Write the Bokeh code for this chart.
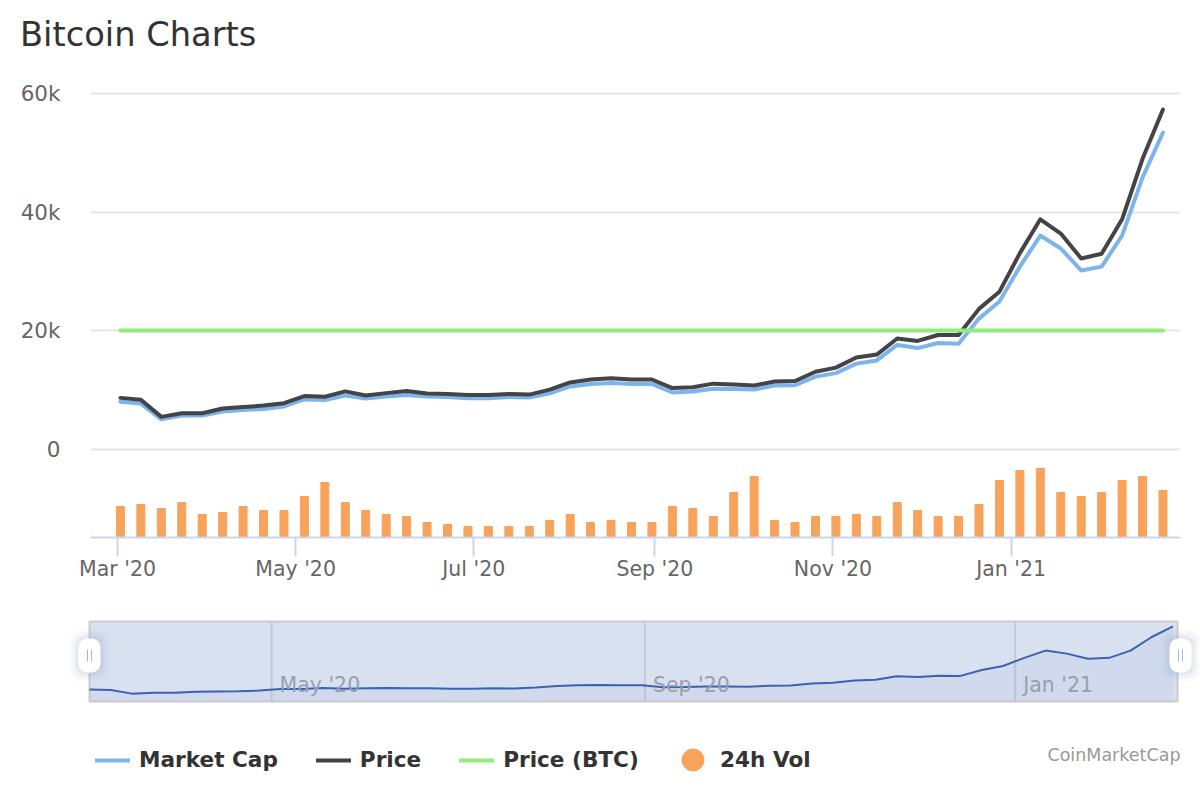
import pandas as pd
from bokeh.embed import file_html
from bokeh.layouts import column
from bokeh.models import (BoxAnnotation, ColumnDataSource, FixedTicker, Label, Legend,
                          LegendItem, Range1d)
from bokeh.plotting import figure
from bokeh.resources import INLINE

dates = ["2020-03-02","2020-03-09","2020-03-16","2020-03-23","2020-03-30","2020-04-06","2020-04-13","2020-04-20","2020-04-27",
         "2020-05-04","2020-05-11","2020-05-18","2020-05-25","2020-06-01","2020-06-08","2020-06-15","2020-06-22","2020-06-29",
         "2020-07-06","2020-07-13","2020-07-20","2020-07-27","2020-08-03","2020-08-10","2020-08-17","2020-08-24","2020-08-31",
         "2020-09-07","2020-09-14","2020-09-21","2020-09-28","2020-10-05","2020-10-12","2020-10-19","2020-10-26","2020-11-02",
         "2020-11-09","2020-11-16","2020-11-23","2020-11-30","2020-12-07","2020-12-14","2020-12-21","2020-12-28","2021-01-04",
         "2021-01-11","2021-01-18","2021-01-25","2021-02-01","2021-02-08","2021-02-15","2021-02-22"]
price = [8700,8400,5500,6100,6100,6900,7150,7400,7800,9000,8900,9800,9100,9500,9850,9450,9350,9200,9200,9350,9250,10100,
         11300,11800,12000,11800,11800,10350,10500,11100,10950,10800,11450,11550,13100,13800,15500,16000,18700,18300,19300,19300,
         23700,26600,33100,38800,36400,32200,33000,38800,49000,57300]
market_cap = [151,145,95,107,107,120,125,128,136,158,156,170,161,167,172,167,166,162,162,166,164,177,
              199,207,210,207,207,180,183,192,191,189,202,203,230,241,271,281,330,320,336,334,
              413,467,577,675,634,565,577,675,858,1000]
price_btc = [1,1,1,1,1,1,1,1,1,1,1,1,1,1,1,1,1,1,1,1,1,1,1,1,1,1,
             1,1,1,1,1,1,1,1,1,1,1,1,1,1,1,1,1,1,1,1,1,1,1,1,1,1]
volume = [62,66,58,70,46,50,62,54,54,82,110,70,54,46,42,30,26,22,22,22,22,34,46,30,34,30,30,62,58,42,90,122,34,30,42,42,46,42,
          70,54,42,42,66,114,134,138,90,82,90,114,122,94]

y_ticks = [0, 20000, 40000, 60000]
y_labels = ["0", "20k", "40k", "60k"]
x_ticks = ["2020-03-01", "2020-05-01", "2020-07-01", "2020-09-01", "2020-11-01", "2021-01-01"]
x_labels = ["Mar '20", "May '20", "Jul '20", "Sep '20", "Nov '20", "Jan '21"]
nav_ticks = ["2020-05-01", "2020-09-01", "2021-01-01"]
nav_labels = ["May '20", "Sep '20", "Jan '21"]

FONT = "DejaVu Sans"
BLUE, DARK, GREEN, ORANGE = "#7cb5ec", "#434348", "#90ed7d", "#f7a35c"
NAN = float("nan")


def ms(d):
    return pd.Timestamp(d).value / 1e6


x = [ms(d) for d in dates]
src = ColumnDataSource(data=dict(x=x, price=price, mcap=market_cap, btc=price_btc, vol=volume))
nav_src = ColumnDataSource(data=dict(x=x, mcap=market_cap))
DAY = pd.Timedelta(days=1)

# ---- title strip
head = figure(width=1200, height=70, output_backend="svg", toolbar_location=None, frame_align=False,
              x_range=Range1d(0, 1), y_range=Range1d(0, 1), x_axis_location=None, y_axis_location=None,
              min_border_left=0, min_border_right=0, min_border_top=0, min_border_bottom=0)
head.outline_line_color = None
head.grid.grid_line_color = None
head.add_layout(Label(x=19.5, y=36, x_units="screen", y_units="screen", text="Bitcoin Charts", text_font=FONT,
                      text_font_size="33.7px", text_color="#333333", text_baseline="middle"))

# ---- main chart
p = figure(width=1200, height=530, x_axis_type="datetime", output_backend="svg", toolbar_location=None,
           x_range=Range1d(pd.Timestamp("2020-03-01") - 9.25 * DAY, pd.Timestamp("2020-03-01") + 364 * DAY),
           y_range=Range1d(-14831, 60337), frame_align=False,
           min_border_left=90, min_border_right=20, min_border_top=21, min_border_bottom=63)
p.outline_line_color = None
p.extra_y_ranges = {"mcap": Range1d(-277.6, 1129.5), "btc": Range1d(-0.739, 3.009), "vol": Range1d(0, 892)}

xa = p.xaxis[0]
xa.ticker = FixedTicker(ticks=[ms(d) for d in x_ticks])
xa.major_label_overrides = {ms(d): t for d, t in zip(x_ticks, x_labels)}
xa.axis_line_color = "#ccd6eb"
xa.axis_line_width = 2
xa.major_tick_line_color = "#ccd6eb"
xa.major_tick_line_width = 2
xa.major_tick_out = 19
xa.major_tick_in = 0
xa.minor_tick_line_color = None
xa.major_label_standoff = 0
xa.major_label_text_font = FONT
xa.major_label_text_font_size = "20.5px"
xa.major_label_text_color = "#666666"

ya = p.yaxis[0]
ya.ticker = FixedTicker(ticks=y_ticks)
ya.major_label_overrides = dict(zip(y_ticks, y_labels))
ya.axis_line_color = None
ya.major_tick_line_color = None
ya.minor_tick_line_color = None
ya.major_label_standoff = 24
ya.major_label_text_font = FONT
ya.major_label_text_font_size = "21.5px"
ya.major_label_text_color = "#666666"

p.xgrid.grid_line_color = None
p.ygrid.ticker = FixedTicker(ticks=y_ticks)
p.ygrid.grid_line_color = "#e6e6e6"
p.ygrid.grid_line_width = 2

p.vbar(x="x", top="vol", bottom=0, width=2.74 * 86400000, source=src, color=ORANGE, y_range_name="vol")
p.line("x", "mcap", source=src, color=BLUE, line_width=4, y_range_name="mcap", line_join="round", line_cap="round")
p.line("x", "price", source=src, color=DARK, line_width=4, line_join="round", line_cap="round")
p.line("x", "btc", source=src, color=GREEN, line_width=4, y_range_name="btc", line_join="round", line_cap="round")

# ---- navigator
NAV0 = pd.Timestamp("2020-03-02")
nav = figure(width=1200, height=103, x_axis_type="datetime", output_backend="svg", toolbar_location=None,
             x_range=Range1d(NAV0 - 29.32 * DAY, NAV0 + 366.06 * DAY), y_range=Range1d(-38, 1094), frame_align=False,
             x_axis_location=None, y_axis_location=None,
             min_border_left=0, min_border_right=0, min_border_top=19, min_border_bottom=0)
nav.outline_line_color = None
nav.grid.grid_line_color = None
nav.quad(left=[NAV0], right=[NAV0 + 358.5 * DAY], top=[1067], bottom=[-11],
         fill_color="#d9e1f0", line_color="#cccccc", line_width=2)
nav.segment(x0=[ms(d) for d in nav_ticks], x1=[ms(d) for d in nav_ticks], y0=[-11, -11, -11], y1=[1067, 1067, 1067],
            line_color="#c3cad9", line_width=2)
for d, t in zip(nav_ticks, nav_labels):
    nav.add_layout(Label(x=ms(d), x_offset=8, y=218, text=t, text_font=FONT, text_font_size="20.5px",
                         text_color="#999eae", text_baseline="middle"))
nav.varea(x="x", y1=-11, y2="mcap", source=nav_src, fill_color="#335cad", fill_alpha=0.05)
nav.line("x", "mcap", source=nav_src, color="#3a62b3", line_width=2)
for cx in (89, 1180):
    for grow, alpha in ((9, 0.04), (6, 0.06), (3, 0.1)):
        nav.add_layout(BoxAnnotation(left=cx - 11 - grow, right=cx + 11 + grow, top=65 + grow, bottom=31 - grow,
                                     left_units="screen", right_units="screen", top_units="screen", bottom_units="screen",
                                     fill_color="#7f8fb5", fill_alpha=alpha, line_color=None, border_radius=10, level="overlay"))
    nav.add_layout(BoxAnnotation(left=cx - 11, right=cx + 11, top=65, bottom=31,
                                 left_units="screen", right_units="screen", top_units="screen", bottom_units="screen",
                                 fill_color="#ffffff", fill_alpha=1, line_color=None, border_radius=9, level="overlay"))
    for dx in (-2, 2):
        nav.add_layout(BoxAnnotation(left=cx + dx - 0.5, right=cx + dx + 0.5, top=54, bottom=42,
                                     left_units="screen", right_units="screen", top_units="screen", bottom_units="screen",
                                     fill_color="#a9b4cf", fill_alpha=1, line_color=None, level="overlay"))

# ---- legend strip
lg = figure(width=1200, height=90, output_backend="svg", toolbar_location=None, frame_align=False,
            x_range=Range1d(0, 1), y_range=Range1d(0, 1), x_axis_location=None, y_axis_location=None,
            min_border_left=0, min_border_right=0, min_border_top=0, min_border_bottom=0)
lg.outline_line_color = None
lg.grid.grid_line_color = None
r1 = lg.line([NAN, NAN], [NAN, NAN], color=BLUE, line_width=4, line_cap="round")
r2 = lg.line([NAN, NAN], [NAN, NAN], color=DARK, line_width=4, line_cap="round")
r3 = lg.line([NAN, NAN], [NAN, NAN], color=GREEN, line_width=4, line_cap="round")
r4 = lg.scatter([NAN], [NAN], color=ORANGE, marker="circle")


def make_legend(items, loc, width, height, standoff):
    L = Legend(items=items, orientation="horizontal", location=loc, glyph_width=width, glyph_height=height,
               label_standoff=standoff, spacing=38, padding=0, margin=0, border_line_color=None, background_fill_alpha=0,
               label_text_font=FONT, label_text_font_style="bold", label_text_font_size="21.6px",
               label_text_color="#333333", label_height=24)
    lg.add_layout(L)


make_legend([LegendItem(label="Market Cap", renderers=[r1]), LegendItem(label="Price", renderers=[r2]),
             LegendItem(label="Price (BTC)", renderers=[r3])], (95, 21), 35, 22, 9)
make_legend([LegendItem(label="24h Vol", renderers=[r4])], (665, 6), 55, 55, 0)
lg.add_layout(Label(x=1180, y=39, x_units="screen", y_units="screen", text="CoinMarketCap", text_font=FONT,
                    text_font_size="17.5px", text_color="#999999", text_align="right", text_baseline="middle"))

page = column(head, p, nav, lg, spacing=0)
open("out.html", "w").write(file_html(page, INLINE))
